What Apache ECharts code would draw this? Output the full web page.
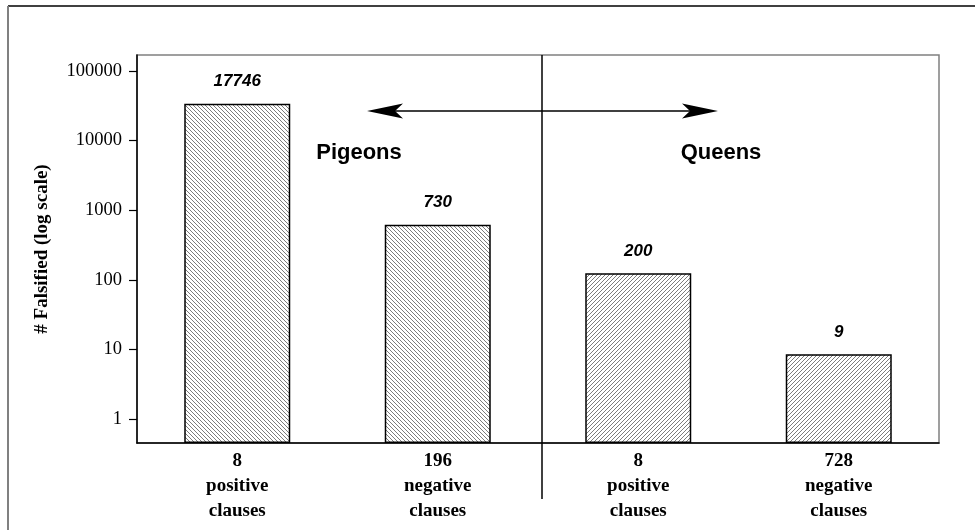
<!DOCTYPE html>
<html>
<head>
<meta charset="utf-8">
<script src="https://cdn.jsdelivr.net/npm/echarts@6/dist/echarts.min.js"></script>
<style>
html,body{margin:0;padding:0;background:#fff;}
#chart{width:975px;height:530px;}
</style>
</head>
<body>
<div id="chart"></div>
<script>
// ---- data ----
const clauseCounts = ['8', '196', '8', '728'];
const clauseTypes = ['positive', 'negative', 'positive', 'negative'];
const barValues = [34000, 620, 124, 8.5];          // bar heights as drawn (log scale)
const barLabels = ['17746', '730', '200', '9'];     // printed labels above bars
const yTicks = [1, 10, 100, 1000, 10000, 100000];
const groups = ['Pigeons', 'Queens'];
const yMin = 0.452, yMax = 170000;

function hatch(dir) {
  const c = document.createElement('canvas');
  c.width = 8; c.height = 8;
  const g = c.getContext('2d');
  g.fillStyle = '#ffffff';
  g.fillRect(0, 0, 8, 8);
  g.strokeStyle = '#444444';
  g.lineWidth = 0.7;
  g.beginPath();
  for (let o = -16; o <= 16; o += 4) {
    if (dir === 'back') { g.moveTo(o, 0); g.lineTo(o + 8, 8); }
    else { g.moveTo(o, 8); g.lineTo(o + 8, 0); }
  }
  g.stroke();
  return c;
}
const backPat = { image: hatch('back'), repeat: 'repeat' };
const fwdPat = { image: hatch('fwd'), repeat: 'repeat' };

const categories = clauseCounts.map((c, i) => c + '\n' + clauseTypes[i] + '\nclauses');

const chart = echarts.init(document.getElementById('chart'), null, { renderer: 'canvas' });

const option = {
  backgroundColor: '#ffffff',
  animation: false,
  grid: {
    left: 137, right: 36, top: 55, bottom: 87,
    show: true, borderColor: '#808080', borderWidth: 1.5, backgroundColor: 'transparent'
  },
  xAxis: {
    type: 'category',
    data: categories,
    axisLine: { show: true, lineStyle: { color: '#000', width: 1.5 } },
    axisTick: { show: false },
    axisLabel: {
      interval: 0, margin: 6,
      fontFamily: 'Liberation Serif', fontWeight: 'bold', fontSize: 19,
      lineHeight: 25, color: '#000'
    },
    splitLine: { show: false }
  },
  yAxis: {
    type: 'log',
    logBase: 10,
    min: yMin,
    max: yMax,
    startValue: yMin,
    name: '# Falsified (log scale)',
    nameLocation: 'middle',
    nameGap: 85,
    nameTextStyle: { fontFamily: 'Liberation Serif', fontWeight: 'bold', fontSize: 19, color: '#000' },
    axisLine: { show: true, lineStyle: { color: '#000', width: 1.5 } },
    axisTick: { show: true, inside: false, length: 8, customValues: yTicks, lineStyle: { color: '#000', width: 1.2 } },
    axisLabel: {
      customValues: yTicks, margin: 15,
      fontFamily: 'Liberation Serif', fontSize: 18.5, color: '#000',
      formatter: v => String(Math.round(v))
    },
    splitLine: { show: false }
  },
  series: [{
    type: 'bar',
    barWidth: 106,
    data: barValues.map((v, i) => ({
      value: v,
      itemStyle: { color: i < 2 ? backPat : fwdPat, borderColor: '#000', borderWidth: 1.5 },
      label: { formatter: barLabels[i] }
    })),
    label: {
      show: true, position: 'top', distance: 14,
      fontFamily: 'Liberation Sans', fontStyle: 'italic', fontWeight: 'bold',
      fontSize: 17, color: '#000'
    }
  }],
  graphic: [
    { type: 'line', shape: { x1: 8, y1: 6, x2: 975, y2: 6 }, style: { stroke: '#000', lineWidth: 1.5 }, z: 100 },
    { type: 'line', shape: { x1: 8, y1: 6, x2: 8, y2: 530 }, style: { stroke: '#808080', lineWidth: 2 }, z: 100 },
    { type: 'line', shape: { x1: 542, y1: 55, x2: 542, y2: 499 }, style: { stroke: '#000', lineWidth: 1.5 }, z: 100 },
    { type: 'line', shape: { x1: 395, y1: 111, x2: 693, y2: 111 }, style: { stroke: '#000', lineWidth: 1.5 }, z: 100 },
    { type: 'polygon', shape: { points: [[367, 111], [403, 103.5], [395, 111], [403, 118.5]] }, style: { fill: '#000' }, z: 100 },
    { type: 'polygon', shape: { points: [[718, 111], [682, 103.5], [690, 111], [682, 118.5]] }, style: { fill: '#000' }, z: 100 },
    { type: 'text', x: 359, y: 153, style: { text: groups[0], fontFamily: 'Liberation Sans', fontWeight: 'bold', fontSize: 22, fill: '#000', align: 'center', verticalAlign: 'middle' }, z: 100 },
    { type: 'text', x: 721, y: 153, style: { text: groups[1], fontFamily: 'Liberation Sans', fontWeight: 'bold', fontSize: 22, fill: '#000', align: 'center', verticalAlign: 'middle' }, z: 100 }
  ]
};
chart.setOption(option);
</script>
</body>
</html>
